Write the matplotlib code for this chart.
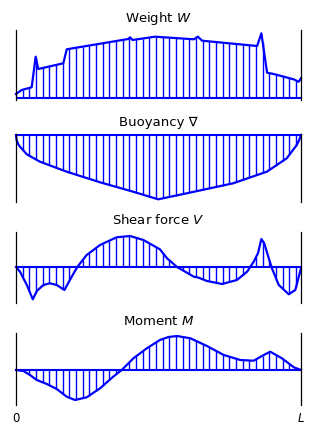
import numpy as np
import matplotlib
matplotlib.use('Agg')
from matplotlib import pyplot as plt

# positions along the hull, as a fraction of the length L
weight_x = [0.0, 0.02, 0.055, 0.069, 0.078, 0.166, 0.178, 0.394, 0.400, 0.409,
            0.488, 0.624, 0.638, 0.653, 0.846, 0.861, 0.881, 0.904, 0.974, 0.992, 1.0]
weight_y = [4, 8, 10.7, 41.3, 29, 34.7, 48.7, 59, 60.7, 58,
            61.3, 58.7, 61.3, 57.3, 52, 64.7, 25.3, 24, 18.7, 16.3, 19.7]

buoy_x = [0.0, 0.002, 0.008, 0.014, 0.038, 0.084, 0.178, 0.295, 0.411, 0.499,
          0.599, 0.762, 0.880, 0.950, 0.985, 0.993, 1.0]
buoy_y = [0, -5, -9.3, -11.7, -19.3, -26.7, -36.7, -47.3, -56.7, -64.3,
          -58.3, -48.3, -36.7, -23.3, -10, -5.5, 0]

shear_x = [0.0, 0.014, 0.038, 0.059, 0.073, 0.096, 0.119, 0.143, 0.170, 0.189,
           0.215, 0.248, 0.295, 0.353, 0.400, 0.447, 0.505, 0.530, 0.565, 0.624,
           0.641, 0.670, 0.723, 0.775, 0.811, 0.834, 0.849, 0.861, 0.871, 0.887,
           0.898, 0.922, 0.957, 0.980, 1.0]
shear_y = [0, -4.7, -18, -32.3, -24, -18, -16.3, -18, -23, -13,
           0, 12, 22, 29.7, 31, 27, 17.7, 8.7, 0, -9.7,
           -10.7, -14, -17, -13, -4.7, 5.3, 13.7, 28, 23.7, 8.7,
           -1.3, -18, -27.3, -23, -1.3]

moment_x = [0.0, 0.026, 0.049, 0.073, 0.108, 0.143, 0.178, 0.207, 0.248, 0.295,
            0.341, 0.371, 0.412, 0.459, 0.505, 0.535, 0.565, 0.612, 0.670, 0.729,
            0.787, 0.834, 0.863, 0.892, 0.933, 0.975, 1.0]
moment_y = [0, -1, -5, -10, -14, -19, -26.7, -30, -27.3, -18.3,
            -6.7, 0, 11.7, 21.7, 30, 33, 34, 31.7, 24, 15,
            10, 9.3, 14, 18.3, 11.7, 2.7, 0]

titles = ['Weight $W$', 'Buoyancy \u2207', 'Shear force $V$', 'Moment $M$']
end_labels = ['0', '$L$']

BLUE = '#0000ff'
W, H = 317, 436

# pixel boxes of the panels: (top, bottom) and the y range shown
panels = [
    (weight_x, weight_y, 30, 100, (-2, 68)),
    (buoy_x, buoy_y, 134, 202, (-67, 1)),
    (shear_x, shear_y, 232, 303, (-36, 35)),
    (moment_x, moment_y, 333, 405, (-35, 37)),
]

fig = plt.figure(figsize=(W / 100, H / 100), dpi=100)
hatch = np.arange(0, 1.0001, 1 / 42.75)

for i, (xs, ys, top, bot, ylim) in enumerate(panels):
    ax = fig.add_axes([16 / W, 1 - bot / H, 285 / W, (bot - top) / H])
    xs = np.asarray(xs)
    ys = np.asarray(ys)

    # vertical hatching from the zero line to the curve
    ax.vlines(hatch, 0, np.interp(hatch, xs, ys), color=BLUE, lw=1.0)
    ax.axhline(0, color=BLUE, lw=1.5)
    ax.plot(xs, ys, color=BLUE, lw=1.6, solid_joinstyle='round', clip_on=False)

    ax.set_xlim(0, 1)
    ax.set_ylim(*ylim)
    for side in ['top', 'bottom']:
        ax.spines[side].set_visible(False)
    for side in ['left', 'right']:
        ax.spines[side].set_linewidth(0.9)
        ax.spines[side].set_color('black')
    ax.set_yticks([])
    ax.set_title(titles[i], fontsize=9.5, pad=5.5)

    if i == len(panels) - 1:
        ax.set_xticks([0, 1])
        ax.set_xticklabels(end_labels, fontsize=8.5)
        ax.tick_params(axis='x', length=0, pad=5)
    else:
        ax.set_xticks([])

fig.savefig('out.png', dpi=100)
